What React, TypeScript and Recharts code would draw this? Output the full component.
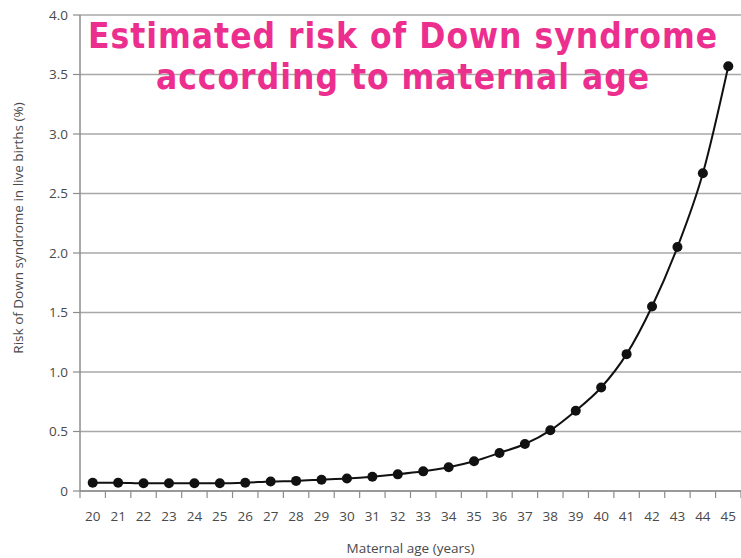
import React from 'react';
import { LineChart, Line, XAxis, YAxis, CartesianGrid } from 'recharts';

// Maternal age categories
const ages = [20, 21, 22, 23, 24, 25, 26, 27, 28, 29, 30, 31, 32, 33, 34, 35, 36, 37, 38, 39, 40, 41, 42, 43, 44, 45];

// Estimated risk (%)
const risk = [0.07, 0.07, 0.065, 0.065, 0.065, 0.065, 0.07, 0.08, 0.085, 0.095, 0.105, 0.12, 0.14, 0.165, 0.2, 0.25, 0.32, 0.395, 0.51, 0.675, 0.87, 1.15, 1.55, 2.05, 2.67, 3.57];

const yTicks = [0, 0.5, 1, 1.5, 2, 2.5, 3, 3.5, 4];
// tick marks sit on the boundaries between ages, labels in the middle
const boundaryTicks = [...ages.map((a) => a - 0.5), ages[ages.length - 1] + 0.5];

const data = ages.map((age, i) => ({ age, risk: risk[i] }));

const AXIS_GRAY = '#8c8c8c';
const TEXT_GRAY = '#4a4a4a';
const FONT = '"Open Sans", "DejaVu Sans", sans-serif';

// label shifted half a band to the right of its boundary tick
const AgeTick = (props: any) => {
  const { x, y, payload, width } = props;
  const age = payload.value + 0.5;
  if (age > ages[ages.length - 1]) return <g />;
  const half = width / ages.length / 2;
  return (
    <text x={x + half} y={y} dy="0.71em" textAnchor="middle" fill={TEXT_GRAY} fontSize={13.5}>
      {age}
    </text>
  );
};

export default function App() {
  return (
    <div style={{ position: 'absolute', left: 0, top: 0, width: 741, height: 558, background: '#fff' }}>
      <LineChart
        width={741}
        height={558}
        data={data}
        margin={{ top: 15, right: 0, left: 0, bottom: 0 }}
        style={{ fontFamily: FONT }}
      >
        <CartesianGrid vertical={false} stroke="#a8a8a8" strokeWidth={1.5} />
        <XAxis
          type="number"
          dataKey="age"
          domain={[19.5, 45.5]}
          ticks={boundaryTicks}
          interval={0}
          tick={<AgeTick />}
          tickLine={{ stroke: AXIS_GRAY, strokeWidth: 1.2 }}
          tickSize={7}
          tickMargin={13}
          axisLine={{ stroke: AXIS_GRAY, strokeWidth: 1.5 }}
          height={67}
          label={{ value: 'Maternal age (years)', position: 'insideBottom', offset: 5, fill: TEXT_GRAY, fontSize: 13.5 }}
        />
        <YAxis
          domain={[0, 4]}
          ticks={yTicks}
          width={80}
          tickLine={{ stroke: AXIS_GRAY, strokeWidth: 1.2 }}
          tickSize={7}
          tickMargin={5}
          axisLine={{ stroke: AXIS_GRAY, strokeWidth: 1.5 }}
          tick={{ fill: TEXT_GRAY, fontSize: 13.5 }}
          tickFormatter={(v) => (v === 0 ? '0' : v.toFixed(1))}
          label={{
            value: 'Risk of Down syndrome in live births (%)',
            angle: -90,
            position: 'insideLeft',
            offset: 18,
            dy: -25,
            style: { textAnchor: 'middle', fill: TEXT_GRAY, fontSize: 13.5 },
          }}
        />
        <Line
          type="monotone"
          dataKey="risk"
          stroke="#111"
          strokeWidth={2}
          dot={{ r: 5, fill: '#111', stroke: '#111', strokeWidth: 0 }}
          isAnimationActive={false}
        />
      </LineChart>
      {/* Title overlay */}
      <div
        style={{
          position: 'absolute',
          left: 75,
          width: 656,
          top: 16,
          textAlign: 'center',
          color: '#ec2f8e',
          fontFamily: '"DejaVu Sans Condensed", "DejaVu Sans", sans-serif',
          fontWeight: 700,
          fontSize: 35,
          lineHeight: '41px',
          letterSpacing: '1px',
        }}
      >
        Estimated risk of Down syndrome
        <br />
        according to maternal age
      </div>
    </div>
  );
}
